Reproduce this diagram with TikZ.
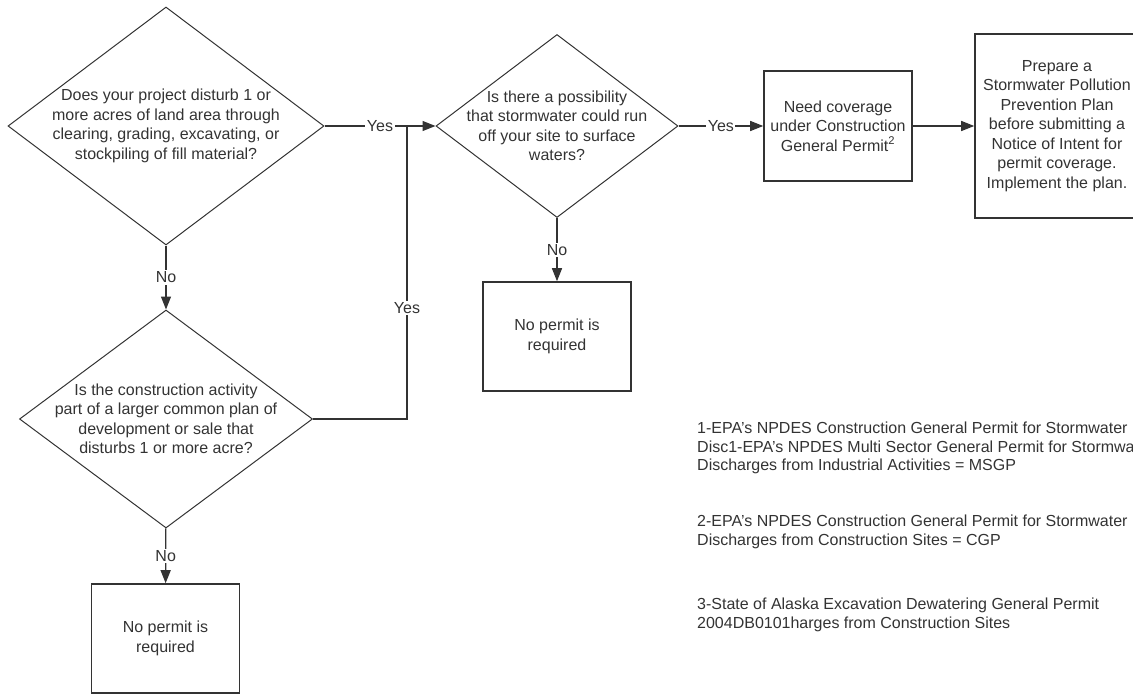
\documentclass[tikz,border=0pt]{standalone}
\usepackage{fontspec}
\setmainfont{Liberation Sans}
\usetikzlibrary{arrows.meta,shapes.geometric}
\definecolor{Ink}{HTML}{333333}
\tikzset{
  dec/.style={draw=Ink,diamond,line width=1pt,inner sep=-12pt,align=center,text=Ink,font=\fontsize{16}{19.5}\selectfont},
  box/.style={draw=Ink,line width=1.6pt,minimum width=148pt,minimum height=109pt,align=center,text=Ink,font=\fontsize{16}{19.5}\selectfont},
  flow/.style={-{Triangle[length=13pt,width=10pt]},draw=Ink,line width=1.3pt},
  link/.style={draw=Ink,line width=1.3pt},
  lbl/.style={fill=white,inner sep=1.5pt,text=Ink,font=\fontsize{16}{19.5}\selectfont},
  note/.style={anchor=west,align=left,inner sep=0pt,text=Ink,font=\fontsize{16}{18.5}\selectfont},
}
\begin{document}
\begin{tikzpicture}[x=1pt,y=-1pt]
  \useasboundingbox (0,0) rectangle (1133,694);
  \clip (0,0) rectangle (1133,694);
  \node[dec,aspect=1.33,minimum width=316pt,minimum height=238pt] (disturb) at (166,126) {Does your project disturb 1 or\\more acres of land area through\\clearing, grading, excavating, or\\stockpiling of fill material?};
  \node[dec,aspect=1.35,minimum width=293pt,minimum height=218pt] (plan) at (166,419) {Is the construction activity\\part of a larger common plan of\\development or sale that\\disturbs 1 or more acre?};
  \node[dec,aspect=1.32,minimum width=242pt,minimum height=183pt] (runoff) at (557,126) {Is there a possibility\\that stormwater could run\\off your site to surface\\waters?};
  \node[box] (nopermitA) at (165.5,638.5) {No permit is\\required};
  \node[box] (nopermitB) at (557,336.5) {No permit is\\required};
  \node[box,minimum height=110pt] (cgp) at (838,126) {Need coverage\\under Construction\\General Permit\textsuperscript{2}};
  \node[box,minimum width=164pt,minimum height=184pt] (swppp) at (1057,126) {Prepare a\\Stormwater Pollution\\Prevention Plan\\before submitting a\\Notice of Intent for\\permit coverage.\\Implement the plan.};
  \coordinate (join) at (407,126);

  \draw[flow] (disturb) -- node[lbl] {Yes} (runoff);
  \draw[flow] (disturb) -- node[lbl] {No} (plan);
  \draw[flow] (plan) -- node[lbl] {No} (nopermitA);
  \draw[link] (plan.east) -| node[lbl,pos=.69] {Yes} (join);
  \draw[flow] (runoff) -- node[lbl] {No} (nopermitB);
  \draw[flow] (runoff) -- node[lbl] {Yes} (cgp);
  \draw[flow] (cgp) -- (swppp);

  \node[note] (msgp) at (697,448) {1-EPA's NPDES Construction General Permit for Stormwater\\Disc1-EPA's NPDES Multi Sector General Permit for Stormwater\\Discharges from Industrial Activities = MSGP};
  \node[note] (cgpnote) at (697,532) {2-EPA's NPDES Construction General Permit for Stormwater\\Discharges from Construction Sites = CGP};
  \node[note] (alaska) at (697,615) {3-State of Alaska Excavation Dewatering General Permit\\2004DB0101harges from Construction Sites};
\end{tikzpicture}
\end{document}
